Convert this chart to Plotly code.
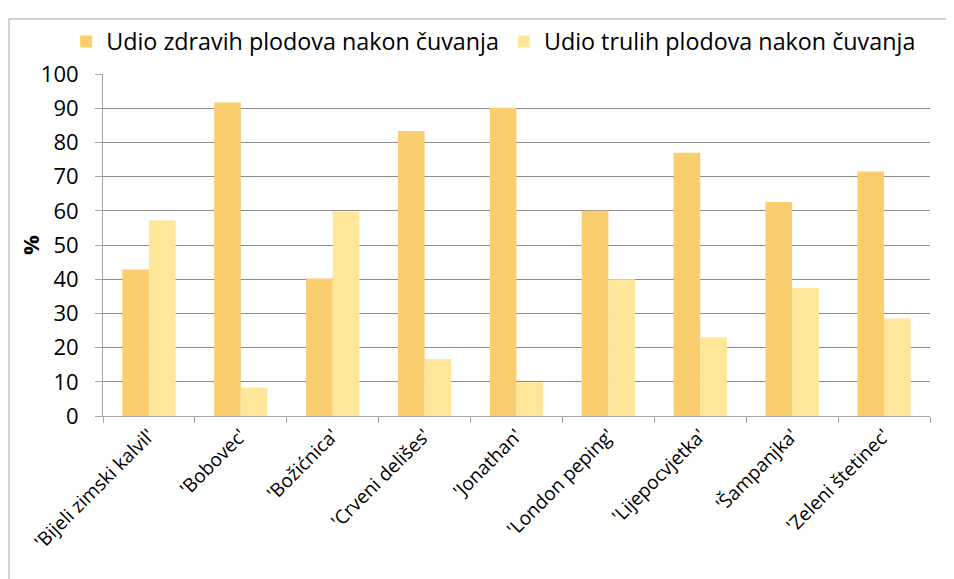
import plotly.graph_objects as go

categories = ["'Bijeli zimski kalvil'", "'Bobovec'", "'Božićnica'", "'Crveni delišes'",
              "'Jonathan'", "'London peping'", "'Lijepocvjetka'", "'Šampanjka'",
              "'Zeleni štetinec'"]
zdravi = [42.8, 91.7, 40.2, 83.3, 90.1, 60.0, 77.0, 62.6, 71.5]
truli = [57.2, 8.3, 59.8, 16.7, 9.9, 40.0, 23.0, 37.4, 28.5]
name_zdravi = "Udio zdravih plodova nakon čuvanja"
name_truli = "Udio trulih plodova nakon čuvanja"
y_ticks = list(range(0, 101, 10))
y_title = "%"

FONT = "Open Sans"

fig = go.Figure()
fig.add_trace(go.Bar(x=categories, y=zdravi, name=name_zdravi,
                     marker=dict(color="#FACD6F", line=dict(width=0))))
fig.add_trace(go.Bar(x=categories, y=truli, name=name_truli,
                     marker=dict(color="#FFE699", line=dict(width=0))))

fig.update_layout(
    width=946, height=571,
    margin=dict(l=95, r=24, t=60, b=163),
    paper_bgcolor="white", plot_bgcolor="white",
    barmode="group", bargap=0.42, bargroupgap=0,
    font=dict(family=FONT, color="black"),
    legend=dict(orientation="h", x=-0.0445, xanchor="left", y=1.03, yanchor="bottom",
                font=dict(size=23.3, family=FONT), traceorder="normal",
                itemwidth=30, tracegroupgap=0),
    showlegend=True,
)
fig.update_xaxes(
    showline=True, linecolor="#A6A6A6", linewidth=1,
    ticks="outside", ticklen=6, tickcolor="#A6A6A6", tickson="boundaries",
    tickangle=-45, tickfont=dict(size=19, family=FONT),
    showgrid=False,
)
fig.update_yaxes(
    range=[0, 100], tickvals=y_ticks,
    showline=True, linecolor="#A6A6A6", linewidth=1,
    ticks="outside", ticklen=7, tickcolor="#A6A6A6",
    ticklabelstandoff=12,
    tickfont=dict(size=22, family=FONT),
    showgrid=True, gridcolor="#8C8C8C", gridwidth=1,
    zeroline=False,
)
fig.add_annotation(text="<b>" + y_title + "</b>", xref="paper", yref="paper",
                   x=-0.0883, y=0.5, xanchor="center", yanchor="middle",
                   textangle=-90, showarrow=False, font=dict(size=22, family=FONT))
# outer chart border (top and left edges visible in the reference)
fig.add_shape(type="line", xref="paper", yref="paper", x0=-0.1137, x1=1.1, y0=1.161, y1=1.161,
              line=dict(color="#A6A6A6", width=1))
fig.add_shape(type="line", xref="paper", yref="paper", x0=-0.1137, x1=-0.1137, y0=1.161, y1=-0.6,
              line=dict(color="#A6A6A6", width=1))

fig.write_html("out.html")
